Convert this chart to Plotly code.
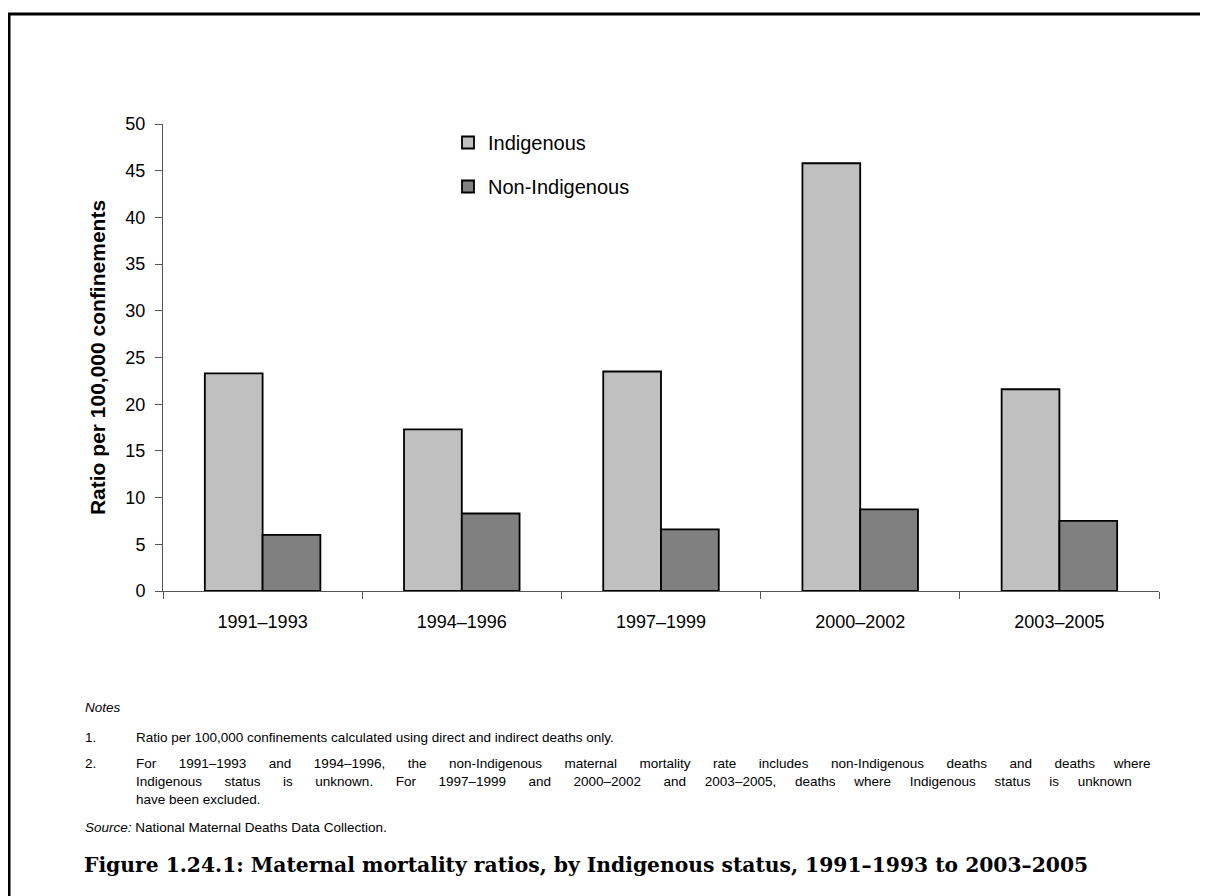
import plotly.graph_objects as go

categories = ["1991–1993", "1994–1996", "1997–1999", "2000–2002", "2003–2005"]
indigenous = [23.3, 17.3, 23.5, 45.8, 21.6]
non_indigenous = [6.0, 8.3, 6.6, 8.75, 7.5]
series_names = ["Indigenous", "Non-Indigenous"]
y_ticks = [0, 5, 10, 15, 20, 25, 30, 35, 40, 45, 50]

notes_heading = "Notes"
# (number, text, extra justification spaces)
note_lines = [
    ("1.", "Ratio per 100,000 confinements calculated using direct and indirect deaths only.", 0),
    ("2.", "For 1991–1993 and 1994–1996, the non-Indigenous maternal mortality rate includes non-Indigenous deaths and deaths where", 69),
    ("", "Indigenous status is unknown. For 1997–1999 and 2000–2002 and 2003–2005, deaths where Indigenous status is unknown", 68),
    ("", "have been excluded.", 0),
]
source_text = "<i>Source:</i> National Maternal Deaths Data Collection."
figure_title = "Figure 1.24.1: Maternal mortality ratios, by Indigenous status, 1991–1993 to 2003–2005"

# page offset (body margin) compensation
OFF = 8
W, H = 1208 - OFF, 896 - OFF
# plot area in reference-pixel coordinates
L, R, T, B = 163, 1159, 124, 591


def px(x):
    return (x - L) / (R - L)


def py(y):
    return (B - y) / (B - T)


def justify(text, extra):
    """Widen word gaps (justified paragraph line) with non-breaking spaces."""
    words = text.split(" ")
    gaps = len(words) - 1
    if extra <= 0 or gaps <= 0:
        return text
    base, rem = divmod(extra, gaps)
    out = words[0]
    for i, w in enumerate(words[1:]):
        n = base + (1 if i < rem else 0)
        out += " " + "\u00a0" * n + w
    return out


FONT = "Liberation Sans, Arial, sans-serif"
NOTE_SIZE = 13.5
NX0, NX1 = 83, 134

fig = go.Figure()
fig.add_trace(go.Bar(
    x=categories, y=indigenous, name=series_names[0], legendgroup="a",
    marker=dict(color="#C0C0C0", line=dict(color="#000000", width=1.8)),
))
fig.add_trace(go.Bar(
    x=categories, y=non_indigenous, name=series_names[1], legendgroup="b",
    marker=dict(color="#808080", line=dict(color="#000000", width=1.8)),
))

annotations = []
annotations.append(dict(x=px(NX0), y=py(707), xref="paper", yref="paper", text="<i>" + notes_heading + "</i>",
                        showarrow=False, xanchor="left", yanchor="middle",
                        font=dict(family=FONT, size=NOTE_SIZE, color="#000")))
note_y = [737, 763, 781, 799]
for (num, txt, extra), yy in zip(note_lines, note_y):
    if num:
        annotations.append(dict(x=px(NX0), y=py(yy), xref="paper", yref="paper", text=num,
                                showarrow=False, xanchor="left", yanchor="middle",
                                font=dict(family=FONT, size=NOTE_SIZE, color="#000")))
    annotations.append(dict(x=px(NX1), y=py(yy), xref="paper", yref="paper", text=justify(txt, extra),
                            showarrow=False, xanchor="left", yanchor="middle",
                            font=dict(family=FONT, size=NOTE_SIZE, color="#000")))
annotations.append(dict(x=px(NX0), y=py(827), xref="paper", yref="paper", text=source_text,
                        showarrow=False, xanchor="left", yanchor="middle",
                        font=dict(family=FONT, size=NOTE_SIZE, color="#000")))
annotations.append(dict(x=px(82), y=py(865), xref="paper", yref="paper", text="<b>" + figure_title + "</b>",
                        showarrow=False, xanchor="left", yanchor="middle",
                        font=dict(family="DejaVu Serif, serif", size=20.3, color="#000")))

fig.update_layout(
    width=W, height=H,
    margin=dict(l=L - OFF, r=W - (R - OFF), t=T - OFF, b=H - (B - OFF), pad=0),
    paper_bgcolor="white", plot_bgcolor="white",
    barmode="group", bargap=0.42, bargroupgap=0,
    font=dict(family=FONT, color="#000"),
    showlegend=True,
    legend=dict(x=px(448), y=py(123), xanchor="left", yanchor="top",
                font=dict(family=FONT, size=20, color="#000"),
                tracegroupgap=15, traceorder="grouped",
                bgcolor="rgba(0,0,0,0)", itemclick=False),
    xaxis=dict(
        type="category", showline=True, linecolor="#555", linewidth=1,
        ticks="outside", tickson="boundaries", ticklen=7, tickcolor="#555",
        ticklabelstandoff=14,
        tickfont=dict(family=FONT, size=18, color="#000"),
        showgrid=False, zeroline=False, fixedrange=True,
    ),
    yaxis=dict(
        range=[0, 50], tickvals=y_ticks, showline=True, linecolor="#555", linewidth=1,
        ticks="outside", ticklen=7, tickcolor="#555", ticklabelstandoff=6,
        tickfont=dict(family=FONT, size=18, color="#000"),
        showgrid=False, zeroline=False, fixedrange=True,
        title=dict(text="<b>Ratio per 100,000 confinements</b>", standoff=14,
                   font=dict(family=FONT, size=21, color="#000")),
    ),
    annotations=annotations,
    shapes=[dict(type="rect", xref="paper", yref="paper",
                 x0=px(9), x1=px(1215), y0=py(905), y1=py(14),
                 line=dict(color="#000", width=3), fillcolor="rgba(0,0,0,0)", layer="below")],
)

fig.write_html("out.html")
